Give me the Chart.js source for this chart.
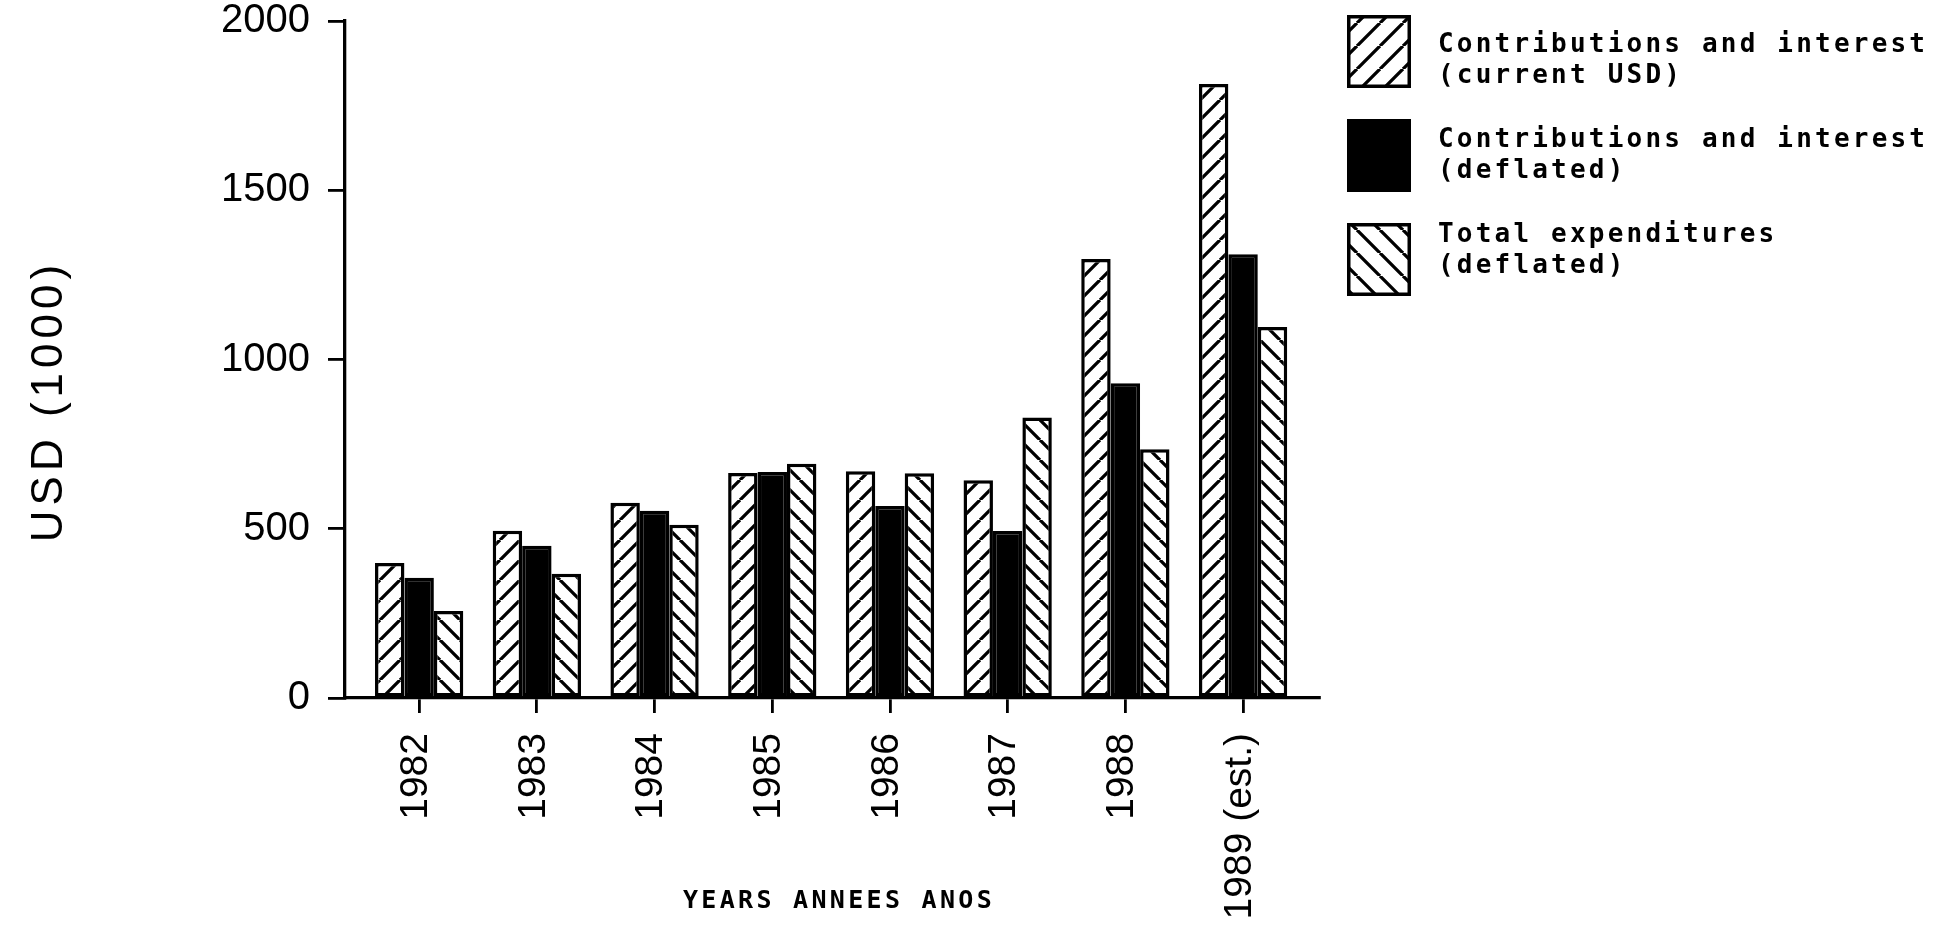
<!DOCTYPE html>
<html>
<head>
<meta charset="utf-8">
<script src="https://cdn.jsdelivr.net/npm/chart.js@4"></script>
<style>
html, body { margin: 0; padding: 0; background: #ffffff; }
canvas { display: block; }
</style>
</head>
<body>
<canvas id="c" width="1937" height="937"></canvas>
<script>
// ---- data ----
const years = ['1982', '1983', '1984', '1985', '1986', '1987', '1988', '1989 (est.)'];
const contribCurrent   = [399, 494, 577, 665, 670, 643, 1297, 1814];
const contribDeflated  = [355, 450, 553, 668, 567, 493, 930, 1311];
const totalExpDeflated = [257, 367, 512, 692, 664, 829, 735, 1096];
const yTickValues = [0, 500, 1000, 1500, 2000];
const legendLabels = [
  ['Contributions and interest', '(current USD)'],
  ['Contributions and interest', '(deflated)'],
  ['Total expenditures', '(deflated)']
];
const yTitle = 'USD (1000)';
const xTitle = 'YEARS ANNEES ANOS';

const canvas = document.getElementById('c');
const mainCtx = canvas.getContext('2d');

function hatch(dir, period, lw) {
  const t = document.createElement('canvas');
  t.width = period; t.height = period;
  const g = t.getContext('2d');
  g.fillStyle = '#ffffff';
  g.fillRect(0, 0, period, period);
  g.strokeStyle = '#000000';
  g.lineWidth = lw;
  g.beginPath();
  for (const k of [-period, 0, period]) {
    if (dir === '/') { g.moveTo(k, period); g.lineTo(k + period, 0); }
    else { g.moveTo(k, 0); g.lineTo(k + period, period); }
  }
  g.stroke();
  return mainCtx.createPattern(t, 'repeat');
}

const barFills = [hatch('/', 20, 3.3), '#000000', hatch('\\', 20, 3.3)];
const legendFills = [hatch('/', 23, 3.3), '#000000', hatch('\\', 23, 3.3)];
const series = [contribCurrent, contribDeflated, totalExpDeflated];

const annotPlugin = {
  id: 'annot',
  afterDraw(chart) {
    const ctx = chart.ctx;
    ctx.save();
    ctx.fillStyle = '#000000';
    // y title
    ctx.save();
    ctx.translate(62, 403);
    ctx.rotate(-Math.PI / 2);
    ctx.font = '44px "Liberation Sans"';
    ctx.letterSpacing = '5px';
    ctx.textAlign = 'center';
    ctx.textBaseline = 'alphabetic';
    ctx.fillText(yTitle, 2, 0);
    ctx.restore();
    // x title
    ctx.save();
    ctx.font = 'bold 25px "DejaVu Sans Mono"';
    ctx.letterSpacing = '3.3px';
    ctx.textAlign = 'center';
    ctx.textBaseline = 'alphabetic';
    ctx.fillText(xTitle, 839, 908);
    ctx.restore();
    // legend
    ctx.save();
    ctx.font = 'bold 26px "DejaVu Sans Mono"';
    ctx.letterSpacing = '3.2px';
    ctx.textAlign = 'left';
    ctx.textBaseline = 'alphabetic';
    legendLabels.forEach((lines, i) => {
      const bx = 1347, by = 15 + 104 * i, bw = 64, bh = 73;
      ctx.fillStyle = legendFills[i];
      ctx.fillRect(bx, by, bw, bh);
      ctx.strokeStyle = '#000000';
      ctx.lineWidth = 3.5;
      ctx.strokeRect(bx + 1.75, by + 1.75, bw - 3.5, bh - 3.5);
      ctx.fillStyle = '#000000';
      lines.forEach((ln, j) => {
        ctx.fillText(ln, 1438, 52 + 95 * i + 31 * j);
      });
    });
    ctx.restore();
    ctx.restore();
  }
};

new Chart(canvas, {
  type: 'bar',
  data: {
    datasets: series.map((vals, s) => ({
      label: legendLabels[s].join(' '),
      data: vals.map((v, i) => ({ x: i, y: v })),
      backgroundColor: barFills[s],
      borderColor: '#000000',
      borderWidth: 3.5,
      borderSkipped: false,
      categoryPercentage: 0.75,
      barPercentage: 1.0
    }))
  },
  options: {
    responsive: false,
    animation: false,
    devicePixelRatio: 1,
    layout: { padding: { top: 21, right: 618, left: 0, bottom: 0 } },
    plugins: { legend: { display: false }, tooltip: { enabled: false } },
    scales: {
      x: {
        type: 'linear',
        min: -0.63,
        max: 7.645,
        offset: false,
        afterFit: s => { s.height = 239; s.paddingLeft = 0; s.paddingRight = 0; },
        border: { display: true, color: '#000000', width: 3.3 },
        grid: { display: true, offset: false, drawOnChartArea: false, drawTicks: true, tickLength: 15, color: '#000000', lineWidth: 2.8 },
        ticks: {
          stepSize: 1, includeBounds: false, autoSkip: false,
          minRotation: 90, maxRotation: 90, padding: 20, labelOffset: -3,
          color: '#000000',
          font: { family: 'Liberation Sans', size: 39 },
          callback: v => (Number.isInteger(v) && years[v] !== undefined) ? years[v] : ''
        }
      },
      y: {
        min: 0,
        max: 2000,
        afterFit: s => { s.width = 345; s.paddingTop = 0; s.paddingBottom = 0; },
        afterBuildTicks: s => { s.ticks = yTickValues.map(v => ({ value: v })); },
        border: { display: true, color: '#000000', width: 3.3 },
        grid: { display: true, drawOnChartArea: false, drawTicks: true, tickLength: 17, color: '#000000', lineWidth: 2.8 },
        ticks: {
          padding: 18,
          color: '#000000',
          font: { family: 'Liberation Sans', size: 40, lineHeight: 1 },
          callback: v => String(v)
        }
      }
    }
  },
  plugins: [annotPlugin]
});
</script>
</body>
</html>
